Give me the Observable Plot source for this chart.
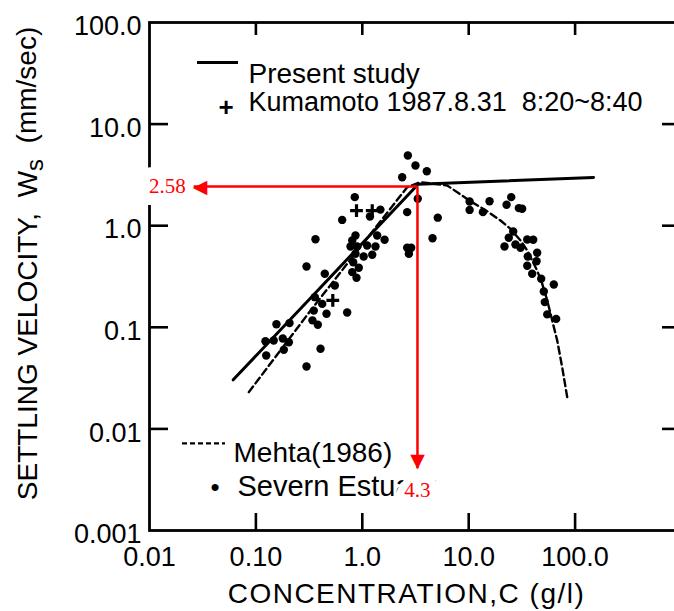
<!DOCTYPE html>
<html><head><meta charset="utf-8">
<script src="https://cdn.jsdelivr.net/npm/d3@7"></script>
<script src="https://cdn.jsdelivr.net/npm/@observablehq/plot@0.6"></script>
<style>
html,body{margin:0;padding:0;background:#fff;overflow:hidden;}
#chart{width:674px;height:611px;overflow:hidden;}
</style></head><body><div id="chart"></div>
<script>
// ---- tick values and labels ----
const xTickValues = [0.01, 0.1, 1, 10, 100];
const xTickLabels = ["0.01", "0.10", "1.0", "10.0", "100.0"];
const xInnerTicks = [0.1, 1, 10, 100];
const yTickValues = [100, 10, 1, 0.1, 0.01, 0.001];
const yTickLabels = ["100.0", "10.0", "1.0", "0.1", "0.01", "0.001"];
const yInnerTicks = [10, 1, 0.1, 0.01];

// ---- Severn Estuary observations (C g/l, Ws mm/s) ----
const severnC = [2.68, 3.16, 4.04, 2.37, 3.32, 0.85, 1.18, 1.48, 0.647, 2.64, 5.12, 0.363, 4.57, 0.863, 0.804,
  1.38, 1.62, 0.775, 0.895, 1.11, 1.33, 2.64, 2.88, 2.74, 0.863, 1.03, 1.24, 0.821, 0.299, 0.927, 0.804,
  0.882, 0.444, 0.552, 0.358, 0.42, 0.721, 0.35, 0.461, 0.34, 0.382, 0.207, 0.156, 0.123, 0.147, 0.179,
  0.204, 0.125, 0.183, 0.405, 0.299,
  10.2, 10.2, 15.7, 13.6, 25.1, 22.7, 29.6, 31.8, 26.2, 23.8, 21.7, 27.5, 30.7, 35.5, 40.4, 44.0, 35.9,
  43.4, 35.5, 39.5, 48.0, 63.1, 50.8, 51.9, 54.7, 66.4];
const severnW = [4.91, 3.91, 3.44, 3.0, 1.84, 1.91, 1.23, 1.44, 1.14, 1.36, 1.20, 0.736, 0.753, 0.80, 0.715,
  0.80, 0.727, 0.624, 0.624, 0.638, 0.624, 0.606, 0.606, 0.529, 0.529, 0.497, 0.517, 0.437, 0.397, 0.385, 0.349,
  0.307, 0.336, 0.258, 0.198, 0.170, 0.14, 0.146, 0.136, 0.117, 0.106, 0.11, 0.107, 0.073, 0.0741, 0.0776,
  0.0713, 0.0528, 0.060, 0.0614, 0.0411,
  1.73, 1.43, 1.74, 1.36, 1.91, 1.61, 1.49, 1.47, 0.877, 0.76, 0.624, 0.653, 0.606, 0.731, 0.727, 0.541, 0.497,
  0.447, 0.403, 0.336, 0.30, 0.264, 0.225, 0.177, 0.134, 0.121];

// ---- Kumamoto 1987.8.31 ----
const kumaC = [0.882, 1.24, 0.528];
const kumaW = [1.41, 1.41, 0.184];

// ---- Present study fitted line ----
const presentC = [0.0612, 3.35, 149];
const presentW = [0.0304, 2.56, 2.98];

// ---- Mehta (1986) curve ----
const mehtaC = [0.0858, 0.326, 2.64, 3.52, 6.28, 10.4, 14.9, 19.9, 24.7, 30.7, 35.5, 39.5, 44.0, 49.1, 54.7, 60.9, 67.9, 75.6, 84.3];
const mehtaW = [0.023, 0.146, 2.39, 2.68, 2.49, 1.74, 1.39, 1.125, 0.932, 0.715, 0.57, 0.454, 0.362, 0.268, 0.184, 0.117, 0.0741, 0.0405, 0.0205];

// ---- red annotation (corner and arrow tips) ----
const annoLabels = ["2.58", "4.3"];
const annoCorner = [3.3, 2.43];
const annoTips = [0.026, 0.0041]; // left tip C, bottom tip W

// ---- legend / titles ----
const legendLabels = ["Present study", "Kumamoto 1987.8.31  8:20~8:40", "Mehta(1986)", "Severn Estuary"];
const xTitle = "CONCENTRATION,C (g/l)";
const yTitle = "SETTLING VELOCITY, Ws (mm/sec)";

// ---- tables ----
const severn = severnC.map((c, i) => ({c, w: severnW[i]}));
const kuma = kumaC.map((c, i) => ({c, w: kumaW[i]}));
const present = presentC.map((c, i) => ({c, w: presentW[i]}));
const mehta = mehtaC.map((c, i) => ({c, w: mehtaW[i]}));
const xTicks = xTickValues.map((v, i) => ({v, label: xTickLabels[i]}));
const yTicks = yTickValues.map((v, i) => ({v, label: yTickLabels[i]}));
const anno = [{c: annoCorner[0], w: annoCorner[1], hTip: annoTips[0], vTip: annoTips[1]}];

const W = 681, H = 611, ML = 149, MR = 0, MT = 22, MB = 81;
const plotW = W - ML - MR, plotH = H - MT - MB;
const sans = "'Liberation Sans', Arial, sans-serif";
const serif = "'Liberation Serif', 'Times New Roman', serif";

const svg = Plot.plot({
  width: W, height: H,
  marginLeft: ML, marginRight: MR, marginTop: MT, marginBottom: MB,
  x: {type: "log", domain: [0.01, 1000], axis: null},
  y: {type: "log", domain: [0.001, 100], axis: null},
  style: "max-width:none;background:#fff;color:#000;font-family:'Liberation Sans',Arial,sans-serif;white-space:pre;overflow:hidden;",
  marks: [
    Plot.frame({stroke: "#000", strokeWidth: 2.8}),
    Plot.tickY(yInnerTicks, {y: d => d, insetRight: plotW - 19, strokeWidth: 2.6}),
    Plot.tickY(yInnerTicks, {y: d => d, insetLeft: plotW - 19, strokeWidth: 2.6}),
    Plot.tickX(xInnerTicks, {x: d => d, insetBottom: plotH - 13, strokeWidth: 2.6}),
    Plot.tickX(xInnerTicks, {x: d => d, insetTop: plotH - 17, strokeWidth: 2.6}),
    Plot.text(yTicks, {x: 0.01, y: "v", text: "label", textAnchor: "end", dx: -8, dy: 4, fontSize: 27, fontFamily: sans}),
    Plot.text(xTicks, {x: "v", y: 0.001, text: "label", dy: 27, fontSize: 27, fontFamily: sans}),
    Plot.text([yTitle], {text: d => d, frameAnchor: "left", dx: -121, dy: -13, rotate: -90, textAnchor: "middle", fontSize: 28, fontFamily: sans}),
    Plot.text([xTitle], {text: d => d, frameAnchor: "bottom", dx: -9, dy: 72, fontSize: 28, fontFamily: sans}),
    // legend
    Plot.ruleY([40.4], {y: d => d, insetLeft: 48, insetRight: plotW - 89, strokeWidth: 3}),
    Plot.text([legendLabels[0]], {text: d => d, frameAnchor: "top-left", dx: 99, dy: 41, textAnchor: "start", fontSize: 28, fontFamily: sans}),
    Plot.text(["+"], {text: d => d, frameAnchor: "top-left", dx: 69, dy: 75, fontSize: 26, fontWeight: "bold", fontFamily: sans}),
    Plot.text([legendLabels[1]], {text: d => d, frameAnchor: "top-left", dx: 99, dy: 69, textAnchor: "start", fontSize: 27, fontFamily: sans}),
    Plot.ruleY([0.0072], {y: d => d, insetLeft: 33, insetRight: plotW - 76, strokeWidth: 2.4, strokeDasharray: "5,3"}),
    Plot.text([legendLabels[2]], {text: d => d, frameAnchor: "top-left", dx: 84, dy: 420, textAnchor: "start", fontSize: 28, fontFamily: sans}),
    Plot.text(["\u2022"], {text: d => d, frameAnchor: "top-left", dx: 61, dy: 455, fontSize: 26, fontFamily: sans}),
    Plot.text([legendLabels[3]], {text: d => d, frameAnchor: "top-left", dx: 88, dy: 453, textAnchor: "start", fontSize: 29, fontFamily: sans}),
    // data
    Plot.line(mehta, {x: "c", y: "w", strokeWidth: 2.4, strokeDasharray: "7,4", curve: "linear"}),
    Plot.line(present, {x: "c", y: "w", strokeWidth: 3}),
    Plot.dot(severn, {x: "c", y: "w", r: 4.2, fill: "#000"}),
    Plot.dot(kuma, {x: "c", y: "w", symbol: "plus", r: 4.2, stroke: "#000", strokeWidth: 3.2}),
    // red annotation
    Plot.text(anno, {x: "hTip", y: "w", text: () => annoLabels[0], dx: -8, textAnchor: "end", fill: "#ff0000", stroke: "#fff", strokeWidth: 24, strokeLinejoin: "round", paintOrder: "stroke", fontFamily: serif, fontSize: 21}),
    Plot.text(anno, {x: "c", y: "vTip", text: () => annoLabels[1], dy: 22, fill: "#ff0000", stroke: "#fff", strokeWidth: 16, strokeLinejoin: "round", paintOrder: "stroke", fontFamily: serif, fontSize: 21}),
    Plot.link(anno, {x1: "c", y1: "w", x2: "hTip", y2: "w", stroke: "#ff0000", strokeWidth: 2.5}),
    Plot.link(anno, {x1: "c", y1: "w", x2: "c", y2: "vTip", stroke: "#ff0000", strokeWidth: 2.5}),
    Plot.text(anno, {x: "hTip", y: "w", text: () => "\u25C0", textAnchor: "start", dx: -1, fill: "#ff0000", fontFamily: "DejaVu Sans", fontSize: 19}),
    Plot.text(anno, {x: "c", y: "vTip", text: () => "\u25BC", dy: -7, fill: "#ff0000", fontFamily: "DejaVu Sans", fontSize: 19})
  ]
});

// subscript on W and letter spacing on x title
d3.select(svg).selectAll("text").each(function () {
  const t = this.textContent;
  if (t === yTitle) {
    const s = d3.select(this);
    s.text(null);
    s.attr("text-anchor", "middle");
    s.append("tspan").text("SETTLING VELOCITY,  W");
    s.append("tspan").attr("dy", "0.25em").attr("font-size", "0.85em").text("s");
    s.append("tspan").attr("dy", "-0.25em").text("  (mm/sec)");
  } else if (t === xTitle) {
    d3.select(this).attr("letter-spacing", "1.5");
  }
});

document.getElementById("chart").appendChild(svg);
</script></body></html>
